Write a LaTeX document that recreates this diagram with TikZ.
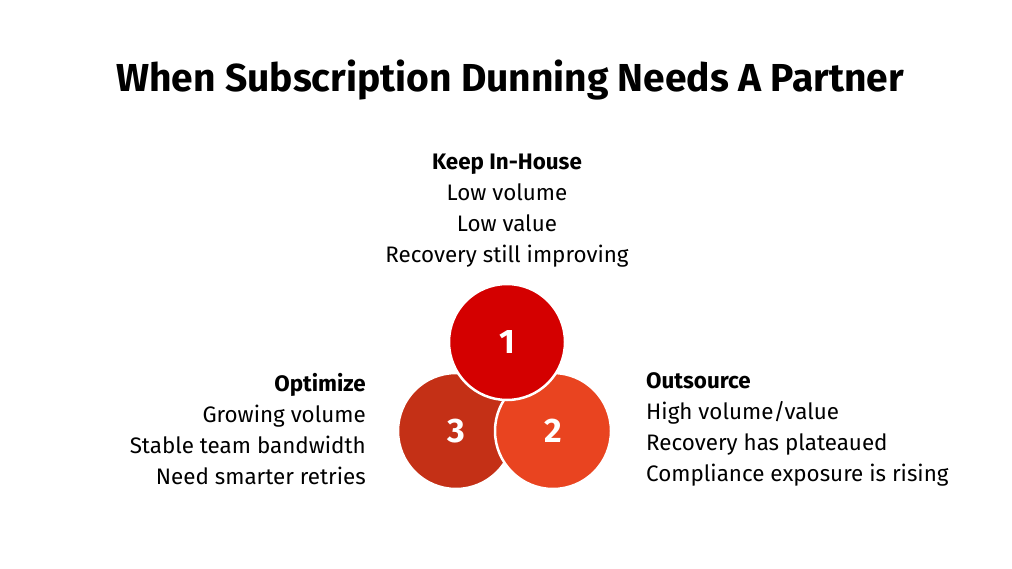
\documentclass[tikz,border=0pt]{standalone}
\usepackage{fontspec}
\setmainfont{Fira Sans}
\definecolor{redone}{HTML}{D40000}
\definecolor{redtwo}{HTML}{E94420}
\definecolor{redthree}{HTML}{C43016}
\tikzset{
  petal/.style = {circle, minimum size = 116pt, inner sep = 0pt, draw = white, line width = 2.5pt,
    text = white, font = \fontsize{34}{34}\selectfont\bfseries},
  block/.style = {inner sep = 0pt, font = \fontsize{22.4}{31}\selectfont},
}
\begin{document}
\begin{tikzpicture}[x = 1pt, y = -1pt]
    \useasboundingbox (0,0) rectangle (1012,569);
    \node[font = \fontsize{39}{39}\selectfont\bfseries] (title) at (510,80) {When Subscription Dunning Needs A Partner};
    % circles, back to front
    \node[petal, fill = redthree] (three) at (456,431) {3};
    \node[petal, fill = redtwo] (two) at (553,431) {2};
    \node[petal, fill = redone] (one) at (507,342) {1};
    % labels
    \node[block, align = center, anchor = north] (keep) at (507,154)
        {\textbf{Keep In-House}\\Low volume\\Low value\\Recovery still improving};
    \node[block, align = right, anchor = north east] (optimize) at (366,373)
        {\textbf{Optimize}\\Growing volume\\Stable team bandwidth\\Need smarter retries};
    \node[block, align = left, anchor = north west] (outsource) at (646,372)
        {\textbf{Outsource}\\High volume/value\\Recovery has plateaued\\Compliance exposure is rising};
\end{tikzpicture}
\end{document}
